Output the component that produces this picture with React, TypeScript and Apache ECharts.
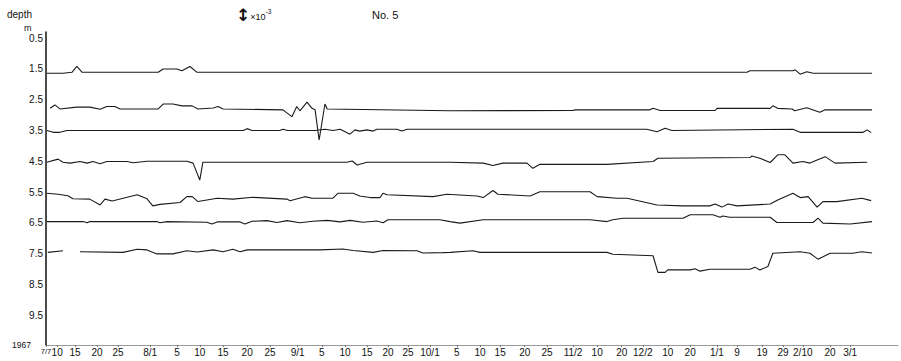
import React, { useEffect, useRef } from "react";
import * as echarts from "echarts";

// x positions are in "plot days" along the original chart's time axis
const xTickValues = [0, 2.5, 6.5, 11.4, 16.1, 23.3, 29.3, 34.4, 39.6, 45, 50.1, 56.3, 61.7, 66.9, 71.8, 76.5, 81, 85.9, 91.9, 97.1, 101.6, 107.1, 112.1, 117.9, 123.3, 128.8, 133.5, 139.1, 144.1, 150.1, 154.6, 160.2, 164.9, 169.3, 175.4, 179.9];
const xTickLabels = ["7/7", "10", "15", "20", "25", "8/1", "5", "10", "15", "20", "25", "9/1", "5", "10", "15", "20", "25", "10/1", "5", "10", "15", "20", "25", "11/2", "10", "20", "12/2", "10", "20", "1/1", "9", "19", "29", "2/10", "20", "3/1"];
const yTickValues = [0.5, 1.5, 2.5, 3.5, 4.5, 5.5, 6.5, 7.5, 8.5, 9.5];

const depth15 = [[0.2, 1.64], [3.8, 1.64], [5.8, 1.61], [6.9, 1.42], [8.1, 1.61], [25.1, 1.61], [26.2, 1.5], [29.3, 1.5], [30.4, 1.56], [32.2, 1.42], [33.8, 1.61], [156.8, 1.61], [157.5, 1.56], [167.1, 1.56], [167.6, 1.53], [168.7, 1.67], [170.2, 1.59], [171.6, 1.64], [184.8, 1.64]];
const depth25 = [[0.9, 2.78], [2.0, 2.67], [3.1, 2.8], [6.9, 2.74], [9.8, 2.74], [12.1, 2.81], [13.6, 2.72], [15.4, 2.72], [16.6, 2.8], [25.1, 2.8], [26.2, 2.64], [28.4, 2.64], [30.4, 2.7], [32.7, 2.7], [34.0, 2.8], [37.4, 2.77], [38.5, 2.72], [39.6, 2.8], [53.0, 2.83], [55.0, 3.05], [56.1, 2.72], [56.8, 2.86], [58.4, 2.58], [59.5, 2.78], [60.2, 2.83], [61.1, 3.81], [62.4, 2.64], [62.9, 2.8], [90.4, 2.86], [117.9, 2.85], [118.3, 2.83], [135.1, 2.83], [135.8, 2.78], [137.4, 2.85], [149.7, 2.85], [150.1, 2.78], [162.0, 2.78], [162.6, 2.7], [163.7, 2.78], [166.9, 2.8], [167.5, 2.86], [170.2, 2.76], [173.1, 2.91], [174.3, 2.83], [184.8, 2.83]];
const depth35 = [[0.2, 3.5], [1.6, 3.56], [3.1, 3.56], [4.7, 3.5], [44.1, 3.5], [45.0, 3.44], [46.1, 3.5], [52.3, 3.5], [53.0, 3.46], [54.1, 3.5], [60.2, 3.5], [62.4, 3.46], [64.2, 3.5], [65.8, 3.46], [68.0, 3.62], [69.1, 3.48], [70.2, 3.52], [71.8, 3.48], [73.2, 3.52], [74.0, 3.46], [78.5, 3.46], [79.6, 3.52], [80.8, 3.46], [134.4, 3.46], [136.7, 3.54], [138.5, 3.43], [140.0, 3.5], [167.1, 3.46], [168.7, 3.56], [182.8, 3.56], [183.7, 3.48], [184.6, 3.57]];
const depth45 = [[0.2, 4.53], [2.7, 4.43], [3.8, 4.53], [5.4, 4.56], [7.6, 4.51], [9.2, 4.56], [10.5, 4.51], [12.1, 4.58], [13.6, 4.51], [18.1, 4.51], [19.5, 4.55], [22.6, 4.5], [31.5, 4.5], [32.9, 4.56], [34.4, 5.11], [35.1, 4.53], [67.3, 4.53], [68.5, 4.49], [69.6, 4.62], [71.8, 4.53], [90.4, 4.53], [97.8, 4.56], [100.0, 4.64], [102.2, 4.56], [107.6, 4.56], [108.9, 4.73], [110.5, 4.6], [125.5, 4.6], [135.8, 4.51], [136.9, 4.4], [157.5, 4.38], [157.9, 4.33], [159.7, 4.4], [162.0, 4.54], [163.7, 4.29], [165.3, 4.29], [167.1, 4.56], [169.3, 4.51], [170.9, 4.56], [172.5, 4.46], [174.3, 4.35], [176.5, 4.56], [183.7, 4.53]];
const depth55 = [[0.2, 5.54], [2.7, 5.57], [4.9, 5.62], [6.0, 5.72], [9.8, 5.73], [12.1, 5.92], [13.2, 5.73], [14.8, 5.79], [20.4, 5.59], [22.6, 5.72], [23.9, 5.95], [25.5, 5.9], [30.0, 5.84], [31.5, 5.65], [32.7, 5.65], [34.0, 5.81], [38.3, 5.7], [41.8, 5.73], [46.3, 5.67], [53.9, 5.73], [54.6, 5.78], [57.9, 5.65], [59.5, 5.7], [64.2, 5.7], [65.3, 5.54], [68.7, 5.54], [70.2, 5.63], [72.5, 5.68], [74.7, 5.68], [75.4, 5.54], [76.3, 5.59], [86.6, 5.65], [89.7, 5.57], [96.4, 5.63], [97.8, 5.68], [100.0, 5.45], [101.1, 5.57], [108.3, 5.63], [110.5, 5.49], [121.7, 5.49], [123.3, 5.65], [127.7, 5.7], [130.0, 5.7], [136.7, 5.92], [142.5, 5.95], [148.5, 5.95], [149.7, 5.89], [151.2, 5.99], [152.6, 5.89], [154.6, 5.95], [162.0, 5.89], [163.7, 5.76], [167.1, 5.54], [168.7, 5.68], [170.5, 5.65], [172.5, 5.99], [173.8, 5.81], [176.9, 5.81], [182.5, 5.7], [184.6, 5.78]];
const depth65 = [[0.2, 6.46], [8.3, 6.46], [9.2, 6.5], [9.8, 6.46], [24.8, 6.46], [25.5, 6.5], [27.1, 6.46], [36.0, 6.48], [37.1, 6.54], [38.3, 6.47], [43.4, 6.47], [44.5, 6.54], [46.1, 6.45], [49.4, 6.43], [51.7, 6.49], [53.9, 6.43], [56.8, 6.5], [59.7, 6.45], [62.9, 6.42], [65.8, 6.47], [68.0, 6.42], [70.9, 6.48], [74.0, 6.44], [75.4, 6.5], [76.5, 6.4], [88.1, 6.4], [90.4, 6.46], [92.6, 6.51], [97.8, 6.4], [121.7, 6.4], [125.5, 6.46], [126.8, 6.4], [129.1, 6.35], [142.5, 6.35], [144.1, 6.24], [149.2, 6.24], [150.8, 6.32], [151.4, 6.28], [153.0, 6.32], [162.0, 6.32], [163.5, 6.49], [171.6, 6.49], [172.7, 6.35], [173.8, 6.51], [179.9, 6.54], [184.8, 6.46]];
const depth75 = [[0.4, 7.46], [3.8, 7.41], [5.7, "-"], [7.6, 7.44], [17.2, 7.46], [20.4, 7.36], [22.6, 7.38], [24.8, 7.51], [28.4, 7.51], [31.5, 7.41], [33.8, 7.45], [37.4, 7.38], [39.6, 7.44], [41.8, 7.36], [43.4, 7.44], [45.0, 7.38], [61.3, 7.38], [66.4, 7.35], [68.7, 7.4], [73.2, 7.46], [75.4, 7.4], [83.0, 7.41], [84.3, 7.48], [88.8, 7.47], [90.4, 7.46], [95.5, 7.41], [97.1, 7.46], [125.5, 7.46], [126.8, 7.52], [135.8, 7.57], [136.9, 8.11], [138.5, 8.11], [139.1, 8.03], [144.1, 8.03], [145.2, 7.99], [146.3, 8.07], [148.5, 8.01], [157.5, 8.01], [158.6, 7.94], [159.7, 8.03], [161.5, 7.92], [162.6, 7.49], [168.7, 7.44], [170.9, 7.49], [172.7, 7.68], [175.4, 7.49], [180.5, 7.49], [182.5, 7.44], [184.8, 7.48]];

const seriesList = [
  { name: "1.5", data: depth15 },
  { name: "2.5", data: depth25 },
  { name: "3.5", data: depth35 },
  { name: "4.5", data: depth45 },
  { name: "5.5", data: depth55 },
  { name: "6.5", data: depth65 },
  { name: "7.5", data: depth75 },
];

const FONT = "'Liberation Sans', Arial, sans-serif";

export default function App() {
  const ref = useRef<HTMLDivElement>(null);
  useEffect(() => {
    if (!ref.current) return;
    const chart = echarts.init(ref.current, null, { renderer: "svg" });
    const labelFor = (v: number) => {
      const i = xTickValues.findIndex((t) => Math.abs(t - v) < 1e-6);
      if (i === 0) return "{s|" + xTickLabels[0] + "}";
      return i >= 0 ? xTickLabels[i] : "";
    };
    chart.setOption({
      animation: false,
      backgroundColor: "#ffffff",
      textStyle: { fontFamily: FONT },
      grid: { left: 46, right: 3, top: 32, bottom: 16 },
      xAxis: {
        type: "value",
        min: 0,
        max: 190.6,
        axisLine: { show: true, lineStyle: { color: "#9a9a9a", width: 1 } },
        axisTick: { show: true, customValues: xTickValues, length: 2, lineStyle: { color: "#777" } },
        splitLine: { show: false },
        axisLabel: {
          customValues: xTickValues,
          formatter: (v: number) => labelFor(v),
          showMinLabel: true,
          showMaxLabel: true,
          hideOverlap: false,
          color: "#111",
          fontSize: 10,
          margin: 2,
          fontFamily: FONT,
          rich: { s: { fontSize: 7.5, color: "#111", fontFamily: FONT } },
        },
      },
      yAxis: {
        type: "value",
        inverse: true,
        min: 0.3,
        max: 10.47,
        axisLine: { show: true, lineStyle: { color: "#111", width: 1.5 } },
        axisTick: { show: false },
        splitLine: { show: false },
        axisLabel: {
          customValues: yTickValues,
          formatter: (v: number) => v.toFixed(1),
          showMinLabel: true,
          showMaxLabel: true,
          color: "#111",
          fontSize: 10,
          margin: 3,
          fontFamily: FONT,
        },
      },
      graphic: [
        { type: "text", left: 7, top: 9, style: { text: "depth", fontSize: 10, fill: "#111", fontFamily: FONT } },
        { type: "text", left: 24, top: 23, style: { text: "m", fontSize: 9, fill: "#111", fontFamily: FONT } },
        { type: "text", left: 12, top: 340, style: { text: "1967", fontSize: 8.5, fill: "#111", fontFamily: FONT } },
        {
          type: "text",
          left: 236,
          top: 6,
          style: {
            text: "{a|↕}{b|×10}{c|-3}",
            fill: "#111",
            fontFamily: FONT,
            rich: {
              a: { fontSize: 17, fill: "#111", fontFamily: "'DejaVu Sans', sans-serif", fontWeight: "bold" },
              b: { fontSize: 9, fill: "#111", padding: [4, 0, 0, 0] },
              c: { fontSize: 6.5, fill: "#111", padding: [0, 0, 6, 0] },
            },
          },
        },
        { type: "text", left: 372, top: 9, style: { text: "No. 5", fontSize: 11, fill: "#111", fontFamily: FONT } },
      ],
      series: seriesList.map((s) => ({
        type: "line",
        name: s.name,
        data: s.data,
        showSymbol: false,
        symbol: "none",
        connectNulls: false,
        lineStyle: { color: "#1a1a1a", width: 1.1 },
        emphasis: { disabled: true },
      })),
    });
    return () => chart.dispose();
  }, []);
  return <div ref={ref} style={{ position: "fixed", left: 0, top: 0, width: 901, height: 361, background: "#fff" }} />;
}
